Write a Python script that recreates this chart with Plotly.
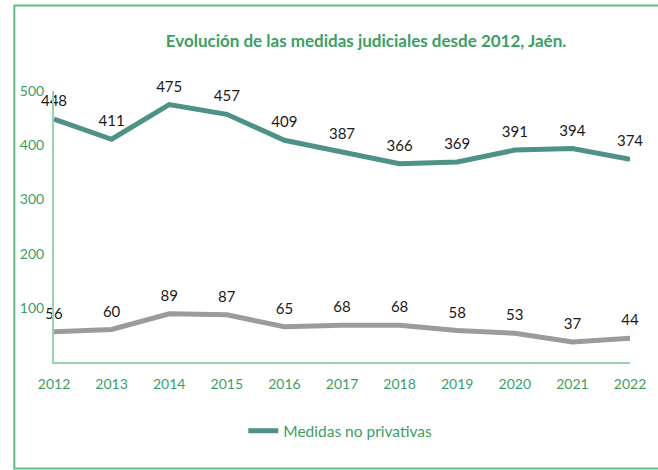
import plotly.graph_objects as go

years = [2012, 2013, 2014, 2015, 2016, 2017, 2018, 2019, 2020, 2021, 2022]
no_privativas = [448, 411, 475, 457, 409, 387, 366, 369, 391, 394, 374]
privativas = [56, 60, 89, 87, 65, 68, 68, 58, 53, 37, 44]
y_ticks = [100, 200, 300, 400, 500]

TEAL = "#4e9188"
GRAY = "#9b9b9b"
GREEN_TXT = "#3a9f64"
FONT = "Lato"

fig = go.Figure()
fig.add_trace(go.Scatter(
    x=years, y=no_privativas, mode="lines+markers+text", name="Medidas no privativas",
    line=dict(color=TEAL, width=5), marker=dict(size=13, color="rgba(0,0,0,0)"),
    text=[str(v) for v in no_privativas],
    textposition="top center", textfont=dict(family=FONT, size=15, color="#1a1a1a"),
    cliponaxis=False, showlegend=True))
fig.add_trace(go.Scatter(
    x=years, y=privativas, mode="lines+markers+text", name="Medidas privativas",
    line=dict(color=GRAY, width=5), marker=dict(size=13, color="rgba(0,0,0,0)"),
    text=[str(v) for v in privativas],
    textposition="top center", textfont=dict(family=FONT, size=15, color="#1a1a1a"),
    cliponaxis=False, showlegend=False))

fig.update_layout(
    width=658, height=470,
    margin=dict(l=54, r=16, t=91, b=108),
    paper_bgcolor="white", plot_bgcolor="white",
    font=dict(family=FONT, color=GREEN_TXT),
    title=dict(text="<b>Evolución de las medidas judiciales desde 2012, Jaén.</b>",
               x=366 / 658, xanchor="center", xref="container",
               y=1 - 41 / 470, yanchor="middle", yref="container",
               font=dict(family=FONT, size=17, color=GREEN_TXT)),
    legend=dict(orientation="h", x=0.497, xanchor="center", y=-0.255, yanchor="middle",
                font=dict(family=FONT, size=15.5, color=GREEN_TXT)),
    xaxis=dict(range=[2012, 2022], tickvals=years, ticktext=[str(y) for y in years],
               showgrid=False, zeroline=False, showline=True, linecolor="#96d3ae", linewidth=2,
               ticks="outside", ticklen=8, tickcolor="rgba(0,0,0,0)",
               ticklabeloverflow="allow",
               tickfont=dict(family=FONT, size=14, color=GREEN_TXT)),
    yaxis=dict(range=[0, 500], tickvals=y_ticks, showgrid=False, zeroline=False,
               showline=True, linecolor="#96d3ae", linewidth=2,
               ticks="outside", ticklen=5, tickcolor="rgba(0,0,0,0)",
               tickfont=dict(family=FONT, size=14, color=GREEN_TXT)),
    shapes=[dict(type="rect", xref="paper", yref="paper",
                 x0=(13.5 - 54) / 588, x1=(680 - 54) / 588,
                 y0=(362 - 468.5) / 271, y1=(362 - 5.5) / 271,
                 line=dict(color="#5cbf7f", width=2), fillcolor="rgba(0,0,0,0)", layer="below")],
)

fig.write_html("out.html", config={"displayModeBar": False},
               post_script="document.body.style.margin='0px';")
